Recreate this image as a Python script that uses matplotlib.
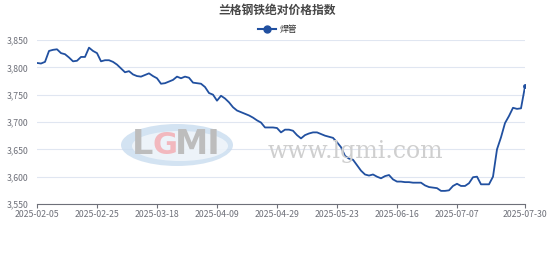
import matplotlib
matplotlib.use("Agg")
import matplotlib.pyplot as plt
from matplotlib.patches import Ellipse
from matplotlib.ticker import FuncFormatter, FixedLocator
import numpy as np

plt.rcParams['font.family'] = ['Noto Sans CJK SC', 'DejaVu Sans']

title = "兰格钢铁绝对价格指数"
series_name = "焊管"
values = [
    3808, 3807, 3810, 3830, 3832, 3833, 3826, 3824, 3818, 3811,
    3812, 3819, 3819, 3836, 3830, 3826, 3811, 3813, 3813, 3810,
    3805, 3798, 3791, 3793, 3787, 3784, 3783, 3786, 3789, 3784,
    3780, 3770, 3771, 3774, 3777, 3783, 3780, 3783, 3781, 3772,
    3771, 3770, 3764, 3753, 3750, 3739, 3748, 3743, 3736, 3727,
    3721, 3718, 3715, 3712, 3708, 3703, 3699, 3690, 3690, 3690,
    3689, 3681, 3686, 3686, 3684, 3676, 3670, 3676, 3679, 3681,
    3681, 3678, 3675, 3673, 3671, 3663, 3654, 3638, 3633, 3631,
    3621, 3611, 3604, 3602, 3604, 3600, 3597, 3601, 3603, 3595,
    3591, 3591, 3590, 3590, 3589, 3589, 3589, 3584, 3581, 3580,
    3579, 3574, 3574, 3575, 3583, 3587, 3583, 3583, 3588, 3599,
    3600, 3586, 3586, 3586, 3600, 3650, 3672, 3698, 3711, 3726,
    3724, 3725, 3765,
]
tick_labels = ["2025-02-05", "2025-02-25", "2025-03-18", "2025-04-09",
               "2025-04-29", "2025-05-23", "2025-06-16", "2025-07-07",
               "2025-07-30"]
label_interval = 15
y_ticks = [3550, 3600, 3650, 3700, 3750, 3800, 3850]

W, H = 554, 258
fig = plt.figure(figsize=(W / 100, H / 100), dpi=100)
fig.patch.set_facecolor("white")

left, right, top, bottom = 37, 525, 40, 204
ax = fig.add_axes([left / W, (H - bottom) / H, (right - left) / W, (bottom - top) / H])

x = np.arange(len(values))
tick_pos = [i * label_interval for i in range(len(tick_labels) - 1)] + [len(values) - 1]

# watermark
fig.patches.append(Ellipse((177 / W, 1 - 145 / H), 112 / W, 42 / H,
                           transform=fig.transFigure, facecolor="#C9DCEF",
                           edgecolor="none", alpha=0.8, zorder=0))
fig.patches.append(Ellipse((180 / W, 1 - 146 / H), 96 / W, 30 / H,
                           transform=fig.transFigure, facecolor="white",
                           edgecolor="none", alpha=0.6, zorder=0))
fig.text(132 / W, 1 - 145 / H, "L", fontsize=24, fontweight="bold", color="#BDBDBD",
         ha="left", va="center", family="DejaVu Sans", zorder=1)
fig.text(152 / W, 1 - 146 / H, "G", fontsize=22, fontweight="bold", color="#F2B8BE",
         ha="left", va="center", family="DejaVu Sans", zorder=1)
fig.text(175 / W, 1 - 145 / H, "MI", fontsize=24, fontweight="bold", color="#BDBDBD",
         ha="left", va="center", family="DejaVu Sans", zorder=1)
fig.text(268 / W, 1 - 158 / H, "www.lgmi.com", fontsize=17, color="#CFCFCF",
         ha="left", va="baseline", family="DejaVu Serif", zorder=1)

ax.set_facecolor("none")
ax.plot(x, values, color="#2150A0", lw=1.3, zorder=3, solid_joinstyle="round")
ax.plot([x[-1]], [values[-1]], "o", color="#2150A0", ms=2.5, zorder=4)

ax.set_xlim(0, len(values) - 1)
ax.set_ylim(y_ticks[0], y_ticks[-1])
ax.yaxis.set_major_locator(FixedLocator(y_ticks))
ax.yaxis.set_major_formatter(FuncFormatter(lambda v, p: f"{int(v):,}"))
ax.set_xticks(tick_pos)
ax.set_xticklabels(tick_labels)

for s in ["top", "right", "left"]:
    ax.spines[s].set_visible(False)
ax.spines["bottom"].set_color("#6E7079")
ax.spines["bottom"].set_linewidth(0.8)
ax.grid(axis="y", color="#E0E6F1", lw=0.8)
ax.set_axisbelow(True)
ax.tick_params(axis="y", length=0, labelsize=6.3, labelcolor="#6E7079", pad=6)
ax.tick_params(axis="x", length=3, width=0.8, color="#6E7079", labelsize=6.3,
               labelcolor="#6E7079", pad=1)

fig.text(0.5, 1 - 10 / H, title, ha="center", va="center", fontsize=8.5,
         fontweight="bold", color="#464646")

# legend
ly = 1 - 29 / H
fig.add_artist(plt.Line2D([258 / W, 276 / W], [ly, ly], color="#2150A0", lw=1.5,
                          transform=fig.transFigure))
fig.add_artist(plt.Line2D([267 / W], [ly], marker="o", color="#2150A0", ms=5,
                          transform=fig.transFigure))
fig.text(280 / W, ly, series_name, ha="left", va="center", fontsize=6.3, color="#333333")

fig.savefig("out.png", dpi=100, facecolor="white")
